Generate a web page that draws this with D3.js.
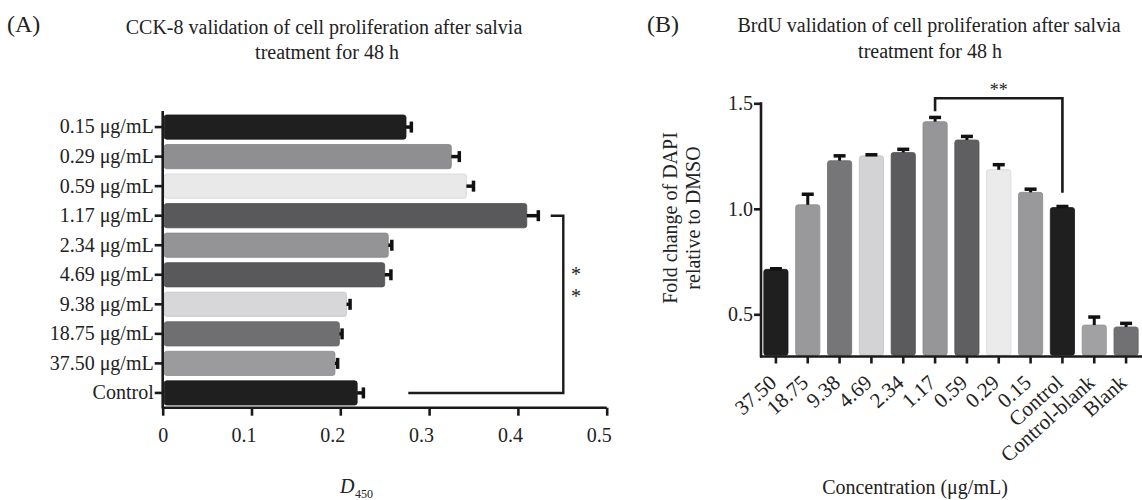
<!DOCTYPE html>
<html>
<head>
<meta charset="utf-8">
<script src="https://cdn.jsdelivr.net/npm/d3@7"></script>
<style>
  body { margin: 0; background: #fff; }
  svg { display: block; font-family: "Liberation Serif", "Times New Roman", serif; }
</style>
</head>
<body>
<div id="chart"></div>
<script>
// Panel A data (CCK-8, horizontal bars, top to bottom)
var aLabels = ["0.15 μg/mL", "0.29 μg/mL", "0.59 μg/mL", "1.17 μg/mL", "2.34 μg/mL",
               "4.69 μg/mL", "9.38 μg/mL", "18.75 μg/mL", "37.50 μg/mL", "Control"]
var aValues = [0.274, 0.325, 0.342, 0.410, 0.254, 0.250, 0.207, 0.199, 0.194, 0.219]
var aErrors = [0.006, 0.009, 0.008, 0.013, 0.004, 0.007, 0.004, 0.003, 0.003, 0.007]
var aColors = ["#1f1f1f", "#8f8f91", "#e9e9ea", "#59595b", "#949496",
               "#59595b", "#d7d7d9", "#6f6f71", "#9b9b9d", "#1f1f1f"]
var aTicks = [0, 0.1, 0.2, 0.3, 0.4, 0.5]

// Panel B data (BrdU, vertical bars, left to right)
var bLabels = ["37.50", "18.75", "9.38", "4.69", "2.34", "1.17", "0.59", "0.29", "0.15",
               "Control", "Control-blank", "Blank"]
var bValues = [0.713, 1.019, 1.228, 1.251, 1.267, 1.413, 1.326, 1.185, 1.078, 1.006, 0.449, 0.440]
var bErrors = [0.003, 0.050, 0.023, 0.005, 0.015, 0.020, 0.017, 0.024, 0.015, 0.005, 0.038, 0.017]
var bColors = ["#1f1f1f", "#99999b", "#767679", "#d3d3d5", "#5b5b5d", "#969698",
               "#5f5f61", "#ebebeb", "#99999b", "#1f1f1f", "#a1a1a3", "#717174"]
var bTicks = [0.5, 1.0, 1.5]

const W = 1142, H = 500
const svg = d3.select("#chart").append("svg").attr("width", W).attr("height", H)

function styleAxis(g) {
    g.selectAll(".domain").attr("stroke", "#1a1a1a").attr("stroke-width", 2.6)
    g.selectAll(".tick line").attr("stroke", "#1a1a1a").attr("stroke-width", 2.6)
    g.selectAll(".tick text").attr("fill", "#222").attr("font-size", 20)
        .attr("font-family", "Liberation Serif, Times New Roman, serif")
}

/* PANEL A */

const ax = d3.scaleLinear().domain([0, 0.5]).range([162.7, 606.7])
const ay = d3.scaleBand().domain(aLabels).range([112, 408]).paddingInner(0.18).paddingOuter(0.1)
const ga = svg.append("g").attr("id", "panel-a")

ga.append("text").attr("x", 7).attr("y", 32).attr("font-size", 24).attr("fill", "#222").text("(A)")
ga.append("text").attr("x", 324).attr("y", 34).attr("text-anchor", "middle").attr("font-size", 20)
    .attr("fill", "#222").text("CCK-8 validation of cell proliferation after salvia")
ga.append("text").attr("x", 327).attr("y", 59).attr("text-anchor", "middle").attr("font-size", 20)
    .attr("fill", "#222").text("treatment for 48 h")

var aData = aLabels.map((l, i) => ({ "label": l, "value": aValues[i], "err": aErrors[i], "color": aColors[i] }))

ga.selectAll("rect.bar").data(aData).join("rect").attr("class", "bar")
    .attr("x", ax(0) + 1.5)
    .attr("y", d => ay(d.label))
    .attr("width", d => ax(d.value) - ax(0) - 1.5)
    .attr("height", ay.bandwidth())
    .attr("rx", 2.5)
    .attr("fill", d => d.color)
    .attr("stroke", d => d3.color(d.color).darker(0.25))
    .attr("stroke-width", 0.8)

// error bars: line + thick cap
ga.selectAll("line.err").data(aData).join("line").attr("class", "err")
    .attr("x1", d => ax(d.value)).attr("x2", d => ax(d.value + d.err))
    .attr("y1", d => ay(d.label) + ay.bandwidth() / 2).attr("y2", d => ay(d.label) + ay.bandwidth() / 2)
    .attr("stroke", "#111").attr("stroke-width", 3.5)
ga.selectAll("line.cap").data(aData).join("line").attr("class", "cap")
    .attr("x1", d => ax(d.value + d.err)).attr("x2", d => ax(d.value + d.err))
    .attr("y1", d => ay(d.label) + ay.bandwidth() / 2 - 5.5).attr("y2", d => ay(d.label) + ay.bandwidth() / 2 + 5.5)
    .attr("stroke", "#111").attr("stroke-width", 3.5)

const axA = ga.append("g").attr("transform", `translate(0, 407.7)`)
    .call(d3.axisBottom(ax).tickValues(aTicks).tickSize(8).tickSizeOuter(0).tickPadding(12)
        .tickFormat(d => d === 0 ? "0" : d3.format(".1f")(d)))
styleAxis(axA)
axA.selectAll(".tick text").attr("dx", d => d === 0 ? 0 : -8)
axA.select(".domain").attr("d", `M${ax(0)},0H${ax(0.5)}`)

const ayA = ga.append("g").attr("transform", `translate(${ax(0)}, 0)`)
    .call(d3.axisLeft(ay).tickSize(8).tickSizeOuter(0).tickPadding(1))
styleAxis(ayA)
ayA.select(".domain").attr("d", "M0,111V408.5")

ga.append("text").attr("x", 340).attr("y", 493).attr("font-size", 20).attr("font-style", "italic")
    .attr("fill", "#222").text("D")
ga.append("text").attr("x", 355).attr("y", 498).attr("font-size", 12)
    .attr("fill", "#222").text("450")

// significance bracket 1.17 vs Control
var aTop = ay("1.17 μg/mL") + ay.bandwidth() / 2
var aBot = ay("Control") + ay.bandwidth() / 2
ga.append("path")
    .attr("d", `M550.7,${aTop}H563.3V${aBot}H408.3`)
    .attr("fill", "none").attr("stroke", "#1a1a1a").attr("stroke-width", 2.4)
ga.append("text").attr("x", 576).attr("y", 281).attr("text-anchor", "middle").attr("font-size", 20)
    .attr("fill", "#222").text("*")
ga.append("text").attr("x", 576).attr("y", 303).attr("text-anchor", "middle").attr("font-size", 20)
    .attr("fill", "#222").text("*")

/* PANEL B */

const bx = d3.scaleBand().domain(bLabels).range([760, 1142]).paddingInner(0.24).paddingOuter(0.12)
const by = d3.scaleLinear().domain([0.3, 1.5]).range([356.5, 103.3])
const gb = svg.append("g").attr("id", "panel-b")

gb.append("text").attr("x", 647).attr("y", 32).attr("font-size", 24).attr("fill", "#222").text("(B)")
gb.append("text").attr("x", 929).attr("y", 32).attr("text-anchor", "middle").attr("font-size", 20)
    .attr("fill", "#222").text("BrdU validation of cell proliferation after salvia")
gb.append("text").attr("x", 930).attr("y", 58).attr("text-anchor", "middle").attr("font-size", 20)
    .attr("fill", "#222").text("treatment for 48 h")

var bData = bLabels.map((l, i) => ({ "label": l, "value": bValues[i], "err": bErrors[i], "color": bColors[i] }))

gb.selectAll("rect.bar").data(bData).join("rect").attr("class", "bar")
    .attr("x", d => bx(d.label))
    .attr("y", d => by(d.value))
    .attr("width", bx.bandwidth())
    .attr("height", d => by(0.3) - by(d.value) - 1.3)
    .attr("rx", 2.5)
    .attr("fill", d => d.color)
    .attr("stroke", d => d3.color(d.color).darker(0.25))
    .attr("stroke-width", 0.8)

gb.selectAll("line.err").data(bData).join("line").attr("class", "err")
    .attr("x1", d => bx(d.label) + bx.bandwidth() / 2).attr("x2", d => bx(d.label) + bx.bandwidth() / 2)
    .attr("y1", d => by(d.value)).attr("y2", d => by(d.value + d.err))
    .attr("stroke", "#111").attr("stroke-width", 3)
gb.selectAll("line.cap").data(bData).join("line").attr("class", "cap")
    .attr("x1", d => bx(d.label) + bx.bandwidth() / 2 - 6).attr("x2", d => bx(d.label) + bx.bandwidth() / 2 + 6)
    .attr("y1", d => by(d.value + d.err)).attr("y2", d => by(d.value + d.err))
    .attr("stroke", "#111").attr("stroke-width", 3.5)

const axB = gb.append("g").attr("transform", `translate(0, ${by(0.3)})`)
    .call(d3.axisBottom(bx).tickSize(7).tickSizeOuter(0).tickFormat(""))
styleAxis(axB)
axB.select(".domain").attr("d", "M760,0H1142")

// rotated category labels
gb.selectAll("text.xlab").data(bLabels).join("text").attr("class", "xlab")
    .attr("transform", d => `translate(${bx(d) + bx.bandwidth() / 2 - 3}, 379) rotate(-42)`)
    .attr("text-anchor", "end").attr("dy", "0.35em")
    .attr("font-size", 21).attr("fill", "#222")
    .text(d => d)

const ayB = gb.append("g").attr("transform", "translate(761, 0)")
    .call(d3.axisLeft(by).tickValues(bTicks).tickSize(7).tickSizeOuter(0).tickPadding(1)
        .tickFormat(d3.format(".1f")))
styleAxis(ayB)
ayB.select(".domain").attr("d", `M0,${by(1.5) - 1}V${by(0.3) + 1}`)

gb.append("text").attr("transform", "translate(677, 218) rotate(-90)").attr("text-anchor", "middle")
    .attr("font-size", 20).attr("fill", "#222").text("Fold change of DAPI")
gb.append("text").attr("transform", "translate(700, 218) rotate(-90)").attr("text-anchor", "middle")
    .attr("font-size", 20).attr("fill", "#222").text("relative to DMSO")

gb.append("text").attr("x", 915).attr("y", 494).attr("text-anchor", "middle").attr("font-size", 20)
    .attr("fill", "#222").text("Concentration (μg/mL)")

// significance bracket 1.17 vs Control
var bL = bx("1.17") + bx.bandwidth() / 2
var bR = bx("Control") + bx.bandwidth() / 2
gb.append("path")
    .attr("d", `M${bL},${by(1.434) - 6}V98.3H${bR}V${by(1.01) - 14}`)
    .attr("fill", "none").attr("stroke", "#1a1a1a").attr("stroke-width", 2.6)
gb.append("text").attr("x", (bL + bR) / 2).attr("y", 96).attr("text-anchor", "middle").attr("font-size", 18)
    .attr("fill", "#222").text("**")
</script>
</body>
</html>
